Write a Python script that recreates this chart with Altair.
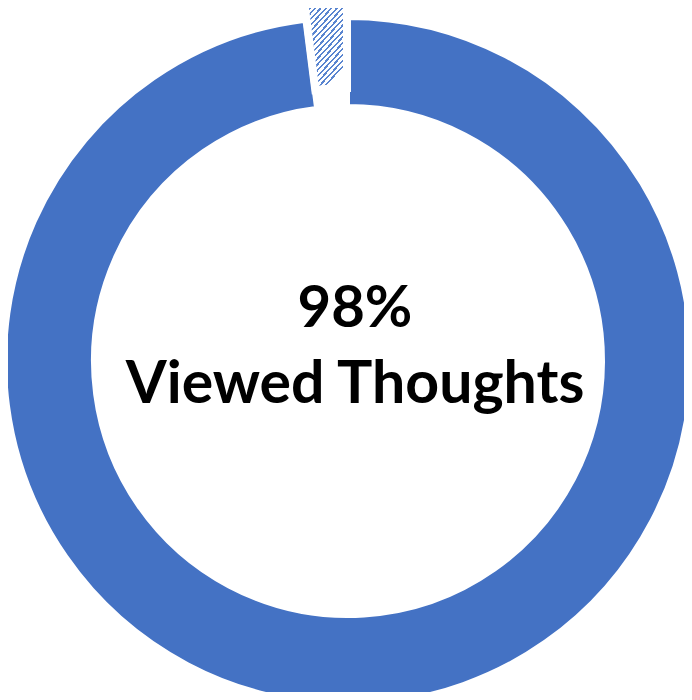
import altair as alt
import pandas as pd

categories = ["Viewed", "Not viewed"]
values = [98, 2]
center_lines = ["98%", "Viewed Thoughts"]

BLUE = "#4472C4"
CX, CY = 340, 353
R_OUT, R_IN = 343, 255

df = pd.DataFrame({"category": categories, "value": values})

theta_scale = alt.Scale(domain=[0, 100], range=[0, 6.283185307179586])

base = alt.Chart(df).transform_window(
    cum="sum(value)", frame=[None, 0]
).transform_calculate(start="datum.cum - datum.value")

blue = base.transform_filter(alt.datum.category == "Viewed").mark_arc(
    fill=BLUE, stroke="white", strokeWidth=4
).encode(
    theta=alt.Theta("start:Q", scale=theta_scale),
    theta2="cum:Q",
    radius=alt.value(R_OUT),
    radius2=alt.value(R_IN),
    x=alt.value(CX),
    y=alt.value(CY),
)

# hatched stripes via hard-stop gradient
N = 20
stops = []
for k in range(N):
    a = k / N
    b = (k + 0.4) / N
    c = (k + 1) / N
    stops += [
        alt.GradientStop(color="#5a85d0", offset=a),
        alt.GradientStop(color="#5a85d0", offset=b),
        alt.GradientStop(color="white", offset=b),
        alt.GradientStop(color="white", offset=c),
    ]
hatch_fill = alt.LinearGradient(gradient="linear", stops=stops, x1=0, y1=0, x2=0.5, y2=1)

hatch = base.transform_filter(alt.datum.category == "Not viewed").mark_arc(
    fill=hatch_fill, stroke="white", strokeWidth=8
).encode(
    theta=alt.Theta("start:Q", scale=theta_scale),
    theta2="cum:Q",
    radius=alt.value(R_OUT + 2),
    radius2=alt.value(R_IN - 2),
    x=alt.value(CX - 1),
    y=alt.value(CY - 20),
)

t1 = alt.Chart(pd.DataFrame({"t": [center_lines[0]]})).mark_text(
    font="Lato", fontWeight="bold", fontSize=58, color="black",
    align="center", baseline="alphabetic"
).encode(text="t:N", x=alt.value(347), y=alt.value(319))

t2 = alt.Chart(pd.DataFrame({"t": [center_lines[1]]})).mark_text(
    font="Lato", fontWeight="bold", fontSize=59, color="black",
    align="center", baseline="alphabetic"
).encode(text="t:N", x=alt.value(347), y=alt.value(395))

chart = alt.layer(blue, hatch, t1, t2).properties(
    width=676, height=684, padding=0, autosize=alt.AutoSizeParams(type="none")
).configure_view(stroke=None)

chart.save("out.html", embed_options={"renderer": "svg", "actions": False})
